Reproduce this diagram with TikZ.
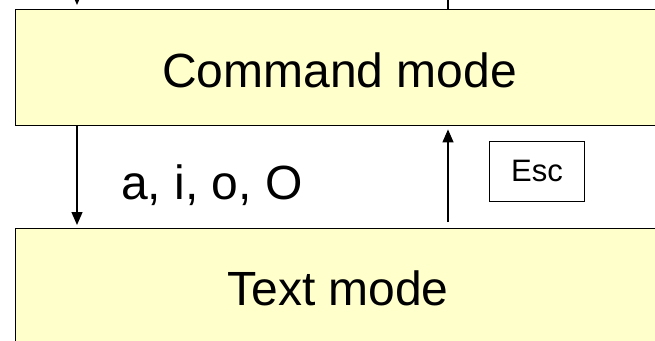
\documentclass[tikz,border=0pt]{standalone}
\usepackage{fontspec}
\setmainfont{Liberation Sans}
\usetikzlibrary{arrows.meta}
\definecolor{boxfill}{HTML}{FFFFCC}
\tikzset{
  modebox/.style={draw=black, line width=1.4pt, fill=boxfill, rectangle, inner sep=0pt, anchor=north west},
  bigtext/.style={font=\fontsize{48}{56}\selectfont, inner sep=0pt, anchor=base},
  keybox/.style={draw=black, line width=0.9pt, rectangle, inner sep=0pt, minimum width=95pt, minimum height=60pt, font=\fontsize{31}{36}\selectfont},
  arr/.style={line width=1.3pt, -{Triangle[length=13pt,width=11pt]}},
  plain/.style={line width=1.3pt}
}
\begin{document}
\begin{tikzpicture}[x=1pt,y=-1pt]
\useasboundingbox (0,0) rectangle (655,340);
\clip (0,0) rectangle (655,340);
\node[modebox, minimum width=700pt, minimum height=116pt] (cmd) at (15,9) {};
\node[modebox, minimum width=700pt, minimum height=140pt] (txt) at (15,228) {};
\node[bigtext] (cmdlbl) at (339.5,87) {Command mode};
\node[bigtext] (txtlbl) at (338,305) {Text mode};
\node[bigtext, anchor=base west] (keys) at (121,199) {a, i, o, O};
\node[keybox] (esc) at (537,171) {Esc};
\coordinate (L) at (77,-20);
\coordinate (R) at (448,-20);
\draw[arr, shorten >=4pt] (L) -- (cmd.north -| L);
\draw[plain] (cmd.north -| R) -- (R);
\draw[arr, shorten >=3pt] (cmd.south -| L) -- (txt.north -| L);
\draw[arr, shorten <=6pt, shorten >=3pt] (txt.north -| R) -- (cmd.south -| R);
\end{tikzpicture}
\end{document}
